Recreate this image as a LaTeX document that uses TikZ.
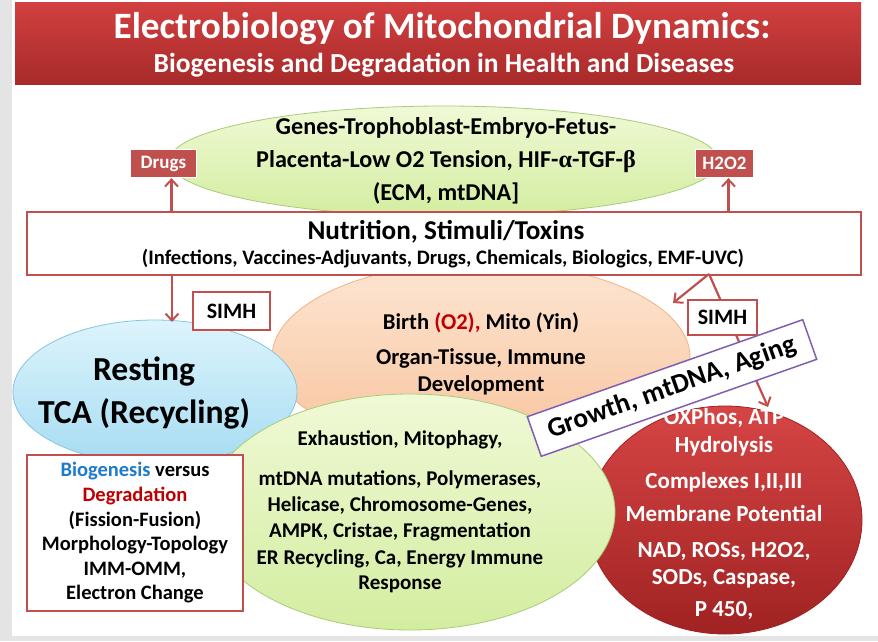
\documentclass[tikz,border=0pt]{standalone}
\usepackage{fontspec}
\setmainfont{Carlito}
\newfontfamily\grk{Liberation Serif}
\usetikzlibrary{positioning,shapes.geometric,arrows.meta,backgrounds}

\definecolor{slidered}{HTML}{C0504D}
\definecolor{bartop}{HTML}{D24040}
\definecolor{barbot}{HTML}{A82A2A}
\definecolor{leafA}{HTML}{F0F9D6}
\definecolor{leafB}{HTML}{D3EDA0}
\definecolor{leafline}{HTML}{A9CC78}
\definecolor{peachA}{HTML}{FDE6D3}
\definecolor{peachB}{HTML}{F8C39C}
\definecolor{peachline}{HTML}{F4B183}
\definecolor{skyA}{HTML}{DDF4FC}
\definecolor{skyB}{HTML}{A6DCF2}
\definecolor{skyline}{HTML}{86C6DE}
\definecolor{wineA}{HTML}{D64545}
\definecolor{wineB}{HTML}{A02222}
\definecolor{bioblue}{HTML}{1F7BC8}
\definecolor{degred}{HTML}{C00000}
\definecolor{growline}{HTML}{7F5FB0}
\definecolor{slidegray}{HTML}{E4E4E4}

\tikzset{
  blob/.style={ellipse, inner sep=0pt, line width=0.8pt},
  words/.style={align=center, font=\bfseries\fontsize{#1}{\fpeval{1.2*#1}}\selectfont},
  tag/.style={draw=white, line width=1.2pt, fill=slidered, text=white,
    font=\bfseries\fontsize{19}{21}\selectfont, inner sep=0pt, minimum height=28pt},
  simh/.style={draw=slidered, line width=1.5pt, fill=white,
    font=\bfseries\fontsize{22}{24}\selectfont, inner sep=0pt},
  link/.style={draw=slidered, line width=2.2pt,
    -{Straight Barb[length=7pt,width=13pt,line width=2pt]}},
  rod/.style={draw=slidered, line width=2.2pt},
}

\begin{document}
\begin{tikzpicture}[x=1pt,y=-1pt]
  \useasboundingbox (0,0) rectangle (878,641);
  \fill[slidegray] (0,0) rectangle (878,641);
  \fill[white] (12,0) rectangle (878,636);

  % title
  \node[top color=bartop, bottom color=barbot, minimum width=846pt, minimum height=82pt,
    inner sep=0pt] (title) at (438,43) {};
  \node[words=37.2, text=white] (title1) at (442,29) {Electrobiology of Mitochondrial Dynamics:};
  \node[words=27.5, text=white] (title2) at (444,65) {Biogenesis and Degradation in Health and Diseases};

  % ellipses
  \node[blob, top color=leafA, bottom color=leafB, draw=leafline,
    minimum width=550pt, minimum height=110pt] (womb) at (444,161) {};
  \node[words=24.2] (wombtext) at (446,161)
    {Genes-Trophoblast-Embryo-Fetus-\\[4pt]
     Placenta-Low O2 Tension, HIF-{\grk α}-TGF-{\grk β}\\[4pt]
     (ECM, mtDNA]};
  \node[blob, top color=peachA, bottom color=peachB, draw=peachline,
    minimum width=418pt, minimum height=190pt] (birth) at (481,357) {};

  % stimuli band
  \node[draw=slidered, line width=1.5pt, fill=white, minimum width=834pt, minimum height=63pt,
    inner sep=0pt] (band) at (444,243.5) {};
  \node[words=27.2] (bandhead) at (446,232) {Nutrition, Stimuli/Toxins};
  \node[words=20.6] (bandsub) at (443,259)
    {(Infections, Vaccines-Adjuvants, Drugs, Chemicals, Biologics, EMF-UVC)};

  \node[words=22.6] (birthtext) at (481,354)
    {Birth {\color{degred}(O2),} Mito (Yin)\\[8pt]Organ-Tissue, Immune\\Development};

  \node[blob, top color=skyA, bottom color=skyB, draw=skyline,
    minimum width=284pt, minimum height=144pt] (rest) at (155,392) {};
  \node[words=33.6] (resttext) at (144,393) {Resting\\[2pt]TCA (Recycling)};

  \node[blob, top color=wineA, bottom color=wineB, draw=wineB,
    minimum width=274pt, minimum height=228pt] (redox) at (725,520) {};
  \node[words=23] (redoxtext) at (724,514)
    {\color{white}OXPhos, ATP\\\color{white}Hydrolysis\\[9pt]\color{white}Complexes I,II,III\\[5pt]
     \color{white}Membrane Potential\\[8pt]\color{white}NAD, ROSs, H2O2,\\\color{white}SODs, Caspase,\\[4pt]
     \color{white}P 450,};

  \node[blob, top color=leafA, bottom color=leafB, draw=leafline,
    minimum width=410pt, minimum height=236pt] (decay) at (410,512) {};
  \node[words=21] (decaytext) at (400,512)
    {Exhaustion, Mitophagy,\\[15pt]mtDNA mutations, Polymerases,\\Helicase, Chromosome-Genes,\\[1pt]
     AMPK, Cristae, Fragmentation\\[2pt]ER Recycling, Ca, Energy Immune\\Response};

  % left box
  \node[draw=slidered, line width=1.5pt, fill=white, minimum width=216pt, minimum height=156pt,
    inner sep=0pt, words=20.5] (balance) at (135,533)
    {{\color{bioblue}Biogenesis} versus\\{\color{degred}Degradation}\\(Fission-Fusion)\\
     Morphology-Topology\\IMM-OMM,\\Electron Change};

  % hidden links
  \coordinate (leftfoot) at (172,282);
  \coordinate (rightfoot) at (709,274);
  \begin{pgfonlayer}{background}
    \draw[rod] (leftfoot) -- (312,405);
    \draw[rod] (birth.center) -- (redox.center);
  \end{pgfonlayer}

  % SIMH boxes and arrows
  \draw[link] (rightfoot) -- (768,407);
  \draw[link] (rightfoot) -- (673,303);
  \node[simh, minimum width=77pt, minimum height=38pt] (simhL) at (231.5,311) {SIMH};
  \node[simh, minimum width=69pt, minimum height=35pt] (simhR) at (722.5,317.5) {SIMH};
  \draw[link] (leftfoot |- band.south) -- (172,322);

  \node[tag, minimum width=66pt] (drugs) at (163.5,163.5) {Drugs};
  \node[tag, minimum width=58pt] (hoho) at (724.5,163.5) {H2O2};
  \draw[link] ([xshift=8pt]drugs.south |- band.north) -- ([xshift=8pt]drugs.south);
  \draw[link] ([xshift=4pt]hoho.south |- band.north) -- ([xshift=4pt]hoho.south);

  % growth banner
  \node[draw=growline, line width=1.5pt, fill=white, rotate=19.4, minimum width=292pt,
    minimum height=42pt, inner sep=0pt, words=27.5] (growth) at (672,388) {Growth, mtDNA, Aging};
\end{tikzpicture}
\end{document}
